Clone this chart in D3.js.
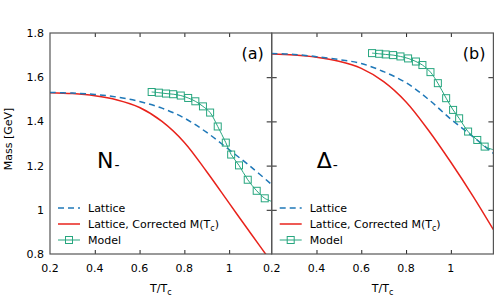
<!DOCTYPE html>
<html>
<head>
<meta charset="utf-8">
<script src="https://cdn.jsdelivr.net/npm/d3@7"></script>
<style>
  body { margin: 0; background: #fff; }
  svg { display: block; }
  text { font-family: "DejaVu Sans", sans-serif; }
</style>
</head>
<body>
<svg id="drawing_region"></svg>
<script>
// temperature grid for the lattice curves
const latticeT = [0.2, 0.3, 0.4, 0.5, 0.6, 0.7, 0.8, 0.9, 1.0, 1.1, 1.19];

// (a) nucleon N-
const nLattice   = [1.531, 1.528, 1.522, 1.510, 1.490, 1.460, 1.415, 1.350, 1.272, 1.192, 1.114];
const nCorrected = [1.530, 1.526, 1.516, 1.497, 1.463, 1.400, 1.305, 1.172, 1.030, 0.888, 0.762];
const nModelT = [0.654, 0.686, 0.718, 0.750, 0.784, 0.817, 0.849, 0.883, 0.915, 0.949, 0.985, 1.009, 1.044, 1.083, 1.123, 1.159, 1.19];
const nModel  = [1.533, 1.530, 1.526, 1.523, 1.517, 1.506, 1.491, 1.468, 1.440, 1.377, 1.304, 1.250, 1.201, 1.136, 1.086, 1.052, 1.038];

// (b) delta Δ-
const dLattice   = [1.707, 1.703, 1.693, 1.680, 1.662, 1.625, 1.575, 1.500, 1.410, 1.330, 1.255];
const dCorrected = [1.705, 1.700, 1.690, 1.672, 1.640, 1.580, 1.488, 1.360, 1.215, 1.060, 0.910];
const dModelT = [0.648, 0.680, 0.709, 0.742, 0.775, 0.809, 0.844, 0.873, 0.909, 0.942, 0.979, 1.010, 1.037, 1.077, 1.118, 1.151, 1.19];
const dModel  = [1.709, 1.706, 1.703, 1.700, 1.694, 1.685, 1.671, 1.655, 1.623, 1.573, 1.505, 1.452, 1.414, 1.354, 1.316, 1.286, 1.272];

const xTicks = [0.2, 0.4, 0.6, 0.8, 1];
const yTicks = [0.8, 1, 1.2, 1.4, 1.6, 1.8];

const panels = [
    { id: "a", label: "(a)", particle: "N", lattice: nLattice, corrected: nCorrected, modelT: nModelT, model: nModel },
    { id: "b", label: "(b)", particle: "Δ", lattice: dLattice, corrected: dCorrected, modelT: dModelT, model: dModel }
];

const colors = { lattice: "#1f78b8", corrected: "#e8231c", model: "#27a67f" };

const width = 498, height = 299;
const margin = { top: 33, left: 50, bottom: 45 };
const panelWidth = 221.7;
const innerHeight = height - margin.top - margin.bottom;

const svg = d3.select("#drawing_region")
    .attr("width", width)
    .attr("height", height);

const yscale = d3.scaleLinear()
    .domain([0.8, 1.8])
    .range([innerHeight, 0]);

panels.forEach((p, i) => {
    const x0 = margin.left + i * panelWidth;
    const g = svg.append("g")
        .attr("transform", `translate(${x0}, ${margin.top})`);

    const xscale = d3.scaleLinear()
        .domain([0.2, 1.19])
        .range([0, panelWidth]);

    g.append("clipPath").attr("id", "clip_" + p.id)
        .append("rect").attr("width", panelWidth).attr("height", innerHeight);

    const plot = g.append("g").attr("clip-path", `url(#clip_${p.id})`);

    const line = d3.line()
        .x(d => xscale(d[0]))
        .y(d => yscale(d[1]))
        .curve(d3.curveCatmullRom.alpha(0.5));

    plot.append("path")
        .datum(latticeT.map((t, k) => [t, p.corrected[k]]))
        .attr("d", line)
        .attr("fill", "none")
        .attr("stroke", colors.corrected)
        .attr("stroke-width", 1.5);

    plot.append("path")
        .datum(latticeT.map((t, k) => [t, p.lattice[k]]))
        .attr("d", line)
        .attr("fill", "none")
        .attr("stroke", colors.lattice)
        .attr("stroke-width", 1.5)
        .attr("stroke-dasharray", "6,4");

    const modelData = p.modelT.map((t, k) => [t, p.model[k]]);
    plot.append("path")
        .datum(modelData)
        .attr("d", line)
        .attr("fill", "none")
        .attr("stroke", colors.model)
        .attr("stroke-width", 1);

    // last model point is only the line end at the frame, no marker
    plot.selectAll("rect.marker")
        .data(modelData.slice(0, -1))
        .enter()
        .append("rect")
        .attr("class", "marker")
        .attr("x", d => xscale(d[0]) - 3.5)
        .attr("y", d => yscale(d[1]) - 3.5)
        .attr("width", 7)
        .attr("height", 7)
        .attr("fill", "none")
        .attr("stroke", colors.model)
        .attr("stroke-width", 1);

    // ticks inside the frame (top, bottom, right side)
    const xaxis_top = d3.axisTop(xscale).tickValues(xTicks.slice(1)).tickSize(-4).tickFormat("");
    g.append("g").call(xaxis_top);
    const xaxis = d3.axisBottom(xscale).tickValues(xTicks.slice(1)).tickSize(-4).tickFormat("");
    g.append("g").attr("transform", `translate(0, ${innerHeight})`).call(xaxis);
    const yaxis_r = d3.axisRight(yscale).tickValues(yTicks.slice(1, -1)).tickSize(-5).tickFormat("");
    g.append("g").attr("transform", `translate(${panelWidth}, 0)`).call(yaxis_r);
    if (i === 0) {
        const yaxis_out = d3.axisRight(yscale).tickValues(yTicks.slice(1, -1)).tickSize(5).tickFormat("");
        g.append("g").attr("transform", `translate(${panelWidth}, 0)`).call(yaxis_out);
    }
    g.selectAll(".domain").remove();
    g.selectAll(".tick line").attr("stroke", "#222");

    // tick labels
    g.selectAll("text.xlab")
        .data(xTicks)
        .enter()
        .append("text")
        .attr("class", "xlab")
        .attr("x", d => xscale(d))
        .attr("y", innerHeight + 18)
        .attr("text-anchor", "middle")
        .style("font-size", "11px")
        .text(d => d3.format("")(d));

    // frame
    g.append("rect")
        .attr("width", panelWidth)
        .attr("height", innerHeight)
        .attr("fill", "none")
        .attr("stroke", "#555")
        .attr("stroke-width", 1.2);

    // x title
    const xt = g.append("text")
        .attr("x", panelWidth / 2)
        .attr("y", innerHeight + 38)
        .attr("text-anchor", "middle")
        .style("font-size", "11px");
    xt.append("tspan").text("T/T");
    xt.append("tspan").attr("dy", 3).style("font-size", "8px").text("c");

    // panel label
    g.append("text")
        .attr("x", panelWidth - 8)
        .attr("y", 26)
        .attr("text-anchor", "end")
        .style("font-size", "16px")
        .text(p.label);

    // particle label
    const pt = g.append("text")
        .attr("x", i === 0 ? 47 : 45)
        .attr("y", 135)
        .style("font-size", "22px")
        .text(p.particle);
    pt.append("tspan").attr("dy", 2).attr("dx", 1).style("font-size", "14px").text("-");

    // legend
    const legend = g.append("g").attr("transform", "translate(8, 175)");
    const rows = [
        { key: "lattice", text: "Lattice" },
        { key: "corrected", text: "Lattice, Corrected M(T" },
        { key: "model", text: "Model" }
    ];
    rows.forEach((r, k) => {
        const ly = k * 16;
        const ln = legend.append("line")
            .attr("x1", 0).attr("x2", 22)
            .attr("y1", ly).attr("y2", ly)
            .attr("stroke", colors[r.key])
            .attr("stroke-width", r.key === "model" ? 1 : 1.5);
        if (r.key === "lattice") ln.attr("stroke-dasharray", "6,4");
        if (r.key === "model") {
            legend.append("rect")
                .attr("x", 7.5).attr("y", ly - 3.5)
                .attr("width", 7).attr("height", 7)
                .attr("fill", "none")
                .attr("stroke", colors.model);
        }
        const t = legend.append("text")
            .attr("x", 30)
            .attr("y", ly + 4)
            .style("font-size", "11px")
            .text(r.text);
        if (r.key === "corrected") {
            t.append("tspan").attr("dy", 3).style("font-size", "8px").text("c");
            t.append("tspan").attr("dy", -3).text(")");
        }
    });
});

// shared y axis labels
const ylab = svg.append("g").attr("transform", `translate(${margin.left}, ${margin.top})`);
ylab.selectAll("text")
    .data(yTicks)
    .enter()
    .append("text")
    .attr("x", -6)
    .attr("y", d => yscale(d) + 4)
    .attr("text-anchor", "end")
    .style("font-size", "11px")
    .text(d => d3.format("")(d));

svg.append("text")
    .attr("transform", "rotate(-90)")
    .attr("x", -139)
    .attr("y", 12)
    .attr("text-anchor", "middle")
    .style("font-size", "11px")
    .text("Mass [GeV]");
</script>
</body>
</html>
